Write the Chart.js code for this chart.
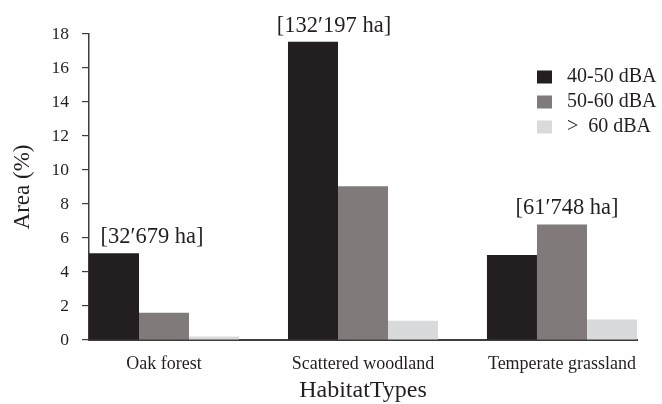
<!DOCTYPE html>
<html>
<head>
<meta charset="utf-8">
<script src="https://cdn.jsdelivr.net/npm/chart.js@4"></script>
<style>
  body { margin: 0; background: #fff; }
  canvas { display: block; }
</style>
</head>
<body>
<canvas id="habitat-chart" width="662" height="404"></canvas>
<script>
// data
const categories = ["Oak forest", "Scattered woodland", "Temperate grassland"];
const seriesLabels = ["40-50 dBA", "50-60 dBA", ">  60 dBA"];
const low = [5.1, 17.55, 5.0];    // 40-50 dBA
const mid = [1.6, 9.05, 6.8];     // 50-60 dBA
const high = [0.2, 1.13, 1.2];    // > 60 dBA
const areaLabels = ["[32\u2032679 ha]", "[132\u2032197 ha]", "[61\u2032748 ha]"];
const yTicks = [0, 2, 4, 6, 8, 10, 12, 14, 16, 18];

// styles
const colors = ["#231f20", "#807a7b", "#d9dadb"];
const ink = "#231f20";
const axisColor = "#3f3c3d";
const serif = "'Liberation Serif', 'Times New Roman', serif";
const groupShare = 0.754; // part of a category taken by its three bars
const labelShift = [-12, -29, 5]; // px, horizontal nudge of the area labels

const toPoints = (values) => values.map((v, i) => ({ x: i, y: v }));

// draws the "[... ha]" text above the tallest bar of every group
const areaLabelPlugin = {
  id: "areaLabels",
  afterDatasetsDraw(chart) {
    const ctx = chart.ctx;
    const xScale = chart.scales.x;
    ctx.save();
    ctx.font = "22.5px " + serif;
    ctx.fillStyle = ink;
    ctx.textAlign = "center";
    ctx.textBaseline = "alphabetic";
    categories.forEach((cat, i) => {
      let top = Infinity;
      chart.data.datasets.forEach((ds, d) => {
        const bar = chart.getDatasetMeta(d).data[i];
        if (bar && bar.y < top) top = bar.y;
      });
      ctx.fillText(areaLabels[i], xScale.getPixelForValue(i) + labelShift[i], top - 10);
    });
    ctx.restore();
  },
};

// moves the legend into the upper right corner of the plot
const legendPlacer = {
  id: "legendPlacer",
  afterLayout(chart) {
    const lg = chart.legend;
    if (!lg) return;
    lg.left = chart.chartArea.right - 105;
    lg.top = chart.chartArea.top + 28;
    lg.right = lg.left + lg.width;
    lg.bottom = lg.top + lg.height;
  },
};

const ctx = document.getElementById("habitat-chart").getContext("2d");
new Chart(ctx, {
  type: "bar",
  data: {
    datasets: [
      { label: seriesLabels[0], data: toPoints(low), backgroundColor: colors[0] },
      { label: seriesLabels[1], data: toPoints(mid), backgroundColor: colors[1] },
      { label: seriesLabels[2], data: toPoints(high), backgroundColor: colors[2] },
    ],
  },
  options: {
    responsive: false,
    animation: false,
    layout: { padding: { left: 0, right: 25, top: 34, bottom: 0 } },
    datasets: {
      bar: { categoryPercentage: groupShare, barPercentage: 1, borderWidth: 0 },
    },
    scales: {
      x: {
        type: "linear",
        offset: false,
        min: -groupShare / 2,
        max: categories.length - 1 + groupShare / 2,
        afterBuildTicks: (scale) => {
          scale.ticks = categories.map((c, i) => ({ value: i }));
        },
        afterFit: (scale) => { scale.height = 64; },
        grid: { display: false, offset: false },
        border: { display: true, color: axisColor, width: 2 },
        ticks: {
          callback: (v) => categories[v],
          color: ink,
          font: { family: serif, size: 18 },
          padding: 5,
          maxRotation: 0,
          autoSkip: false,
        },
        title: {
          display: true,
          text: "HabitatTypes",
          color: ink,
          font: { family: serif, size: 24, lineHeight: 1 },
          padding: { top: 0, bottom: 1 },
        },
      },
      y: {
        min: yTicks[0],
        max: yTicks[yTicks.length - 1],
        afterBuildTicks: (scale) => {
          scale.ticks = yTicks.map((v) => ({ value: v }));
        },
        afterFit: (scale) => { scale.width = 89; },
        grid: {
          drawOnChartArea: false,
          drawTicks: true,
          tickLength: 7,
          color: axisColor,
          lineWidth: 1.2,
        },
        border: { display: true, color: axisColor, width: 1.5 },
        ticks: {
          color: ink,
          font: { family: serif, size: 17.5 },
          padding: 13,
        },
        title: {
          display: true,
          text: "Area (%)",
          color: ink,
          font: { family: serif, size: 23 },
          padding: { top: 9, bottom: 0 },
        },
      },
    },
    plugins: {
      tooltip: { enabled: false },
      legend: {
        position: "chartArea",
        align: "start",
        labels: {
          boxWidth: 15,
          boxHeight: 13,
          padding: 5,
          color: ink,
          font: { family: serif, size: 20 },
          generateLabels: (chart) =>
            Chart.defaults.plugins.legend.labels.generateLabels(chart).map((item) => {
              item.text = " " + item.text;
              item.lineWidth = 0;
              return item;
            }),
        },
      },
    },
  },
  plugins: [areaLabelPlugin, legendPlacer],
});
</script>
</body>
</html>
